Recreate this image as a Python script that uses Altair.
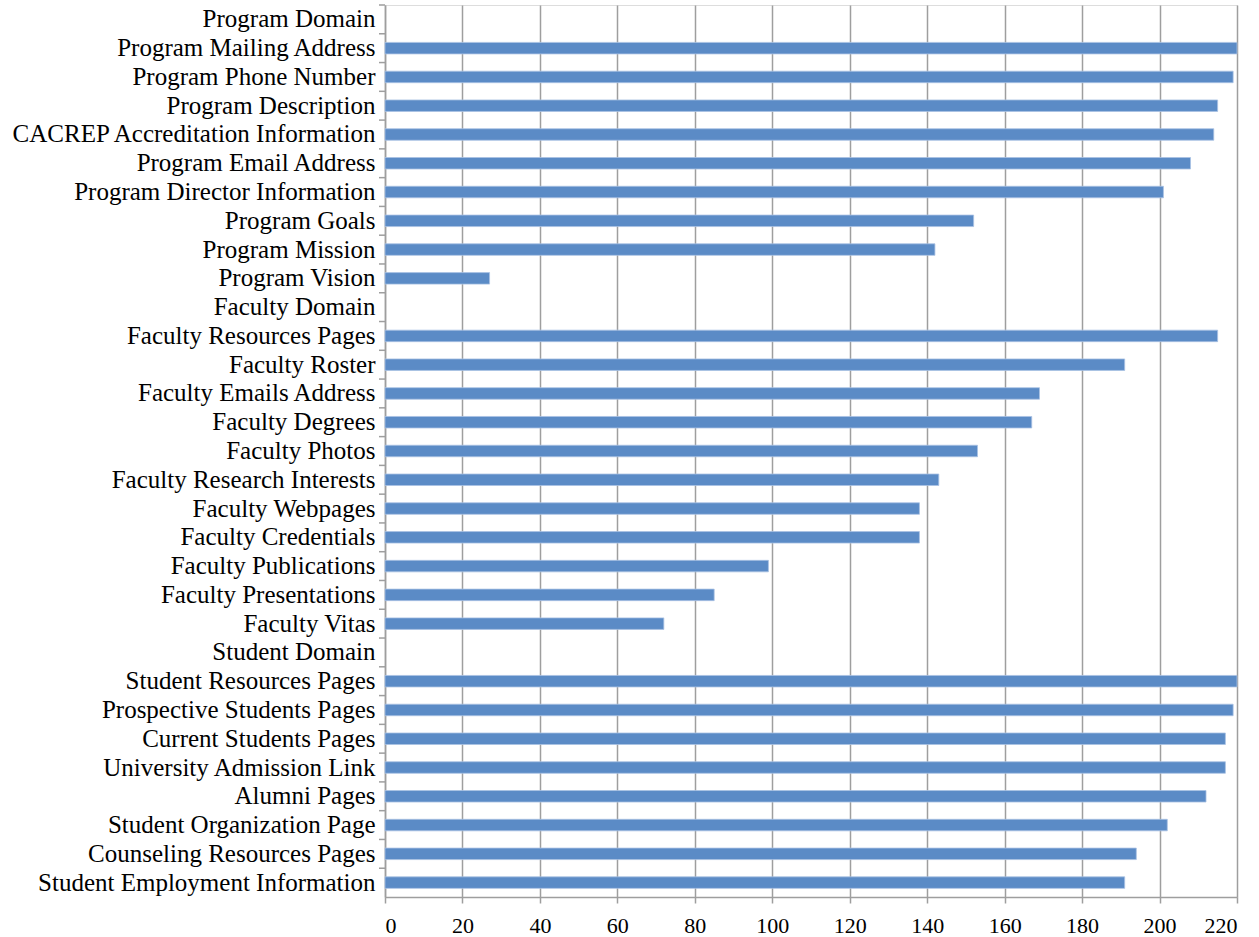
import altair as alt
import pandas as pd

categories = [
    "Program Domain",
    "Program Mailing Address",
    "Program Phone Number",
    "Program Description",
    "CACREP Accreditation Information",
    "Program Email Address",
    "Program Director Information",
    "Program Goals",
    "Program Mission",
    "Program Vision",
    "Faculty Domain",
    "Faculty Resources Pages",
    "Faculty Roster",
    "Faculty Emails Address",
    "Faculty Degrees",
    "Faculty Photos",
    "Faculty Research Interests",
    "Faculty Webpages",
    "Faculty Credentials",
    "Faculty Publications",
    "Faculty Presentations",
    "Faculty Vitas",
    "Student Domain",
    "Student Resources Pages",
    "Prospective Students Pages",
    "Current Students Pages",
    "University Admission Link",
    "Alumni Pages",
    "Student Organization Page",
    "Counseling Resources Pages",
    "Student Employment Information",
]

counts = [
    None, 220, 219, 215, 214, 208, 201, 152, 142, 27,
    None, 215, 191, 169, 167, 153, 143, 138, 138, 99, 85, 72,
    None, 220, 219, 217, 217, 212, 202, 194, 191,
]

x_ticks = [0, 20, 40, 60, 80, 100, 120, 140, 160, 180, 200, 220]

df = pd.DataFrame({"item": categories, "count": counts})

PLOT_H = 892
STEP = PLOT_H / len(categories)
GRAY = "#9E9E9E"

y_axis = alt.Axis(
    title=None,
    ticks=False,
    grid=False,
    domainColor=GRAY,
    domainWidth=1.5,
    labelFont="Liberation Serif",
    labelFontSize=25,
    labelColor="black",
    labelPadding=10,
    labelLimit=400,
    minExtent=380,
    maxExtent=380,
)
y_scale = alt.Scale(domain=categories, paddingInner=0.6, paddingOuter=0.3)

bars = alt.Chart(df).mark_bar(color="#5B8BC6", stroke="#A9C2E3", strokeWidth=0.8).encode(
    x=alt.X(
        "count:Q",
        scale=alt.Scale(domain=[0, 220], nice=False),
        axis=alt.Axis(
            values=x_ticks,
            title=None,
            grid=True,
            gridColor=GRAY,
            gridWidth=1.5,
            domainColor=GRAY,
            domainWidth=1.5,
            tickColor=GRAY,
            tickWidth=1.5,
            tickSize=6,
            labelFont="Liberation Serif",
            labelFontSize=22,
            labelColor="black",
            labelPadding=12,
        ),
    ),
    y=alt.Y("item:N", sort=categories, scale=y_scale, axis=y_axis),
)

ticks = alt.Chart(pd.DataFrame({"item": categories})).mark_rule(
    color=GRAY, strokeWidth=1.5, yOffset=-STEP / 2
).encode(
    y=alt.Y("item:N", sort=categories, scale=y_scale, axis=y_axis),
    x=alt.value(-6),
    x2=alt.value(0),
)

chart = alt.layer(bars, ticks).properties(
    width=852,
    height=PLOT_H,
    padding={"left": 5, "top": 4, "right": 5, "bottom": 5},
).configure_view(stroke=None).configure(background="white")

chart.save("out.html", embed_options={"renderer": "svg", "actions": False})
